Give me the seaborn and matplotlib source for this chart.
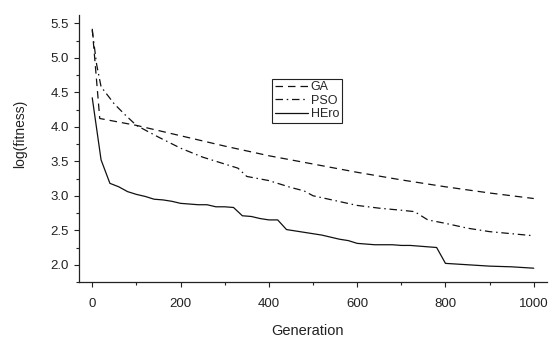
import matplotlib
matplotlib.use("Agg")
import matplotlib.pyplot as plt
import seaborn as sns
import pandas as pd
from matplotlib.ticker import MultipleLocator

sns.set_style("ticks")
plt.rcParams['font.family'] = ['Liberation Sans', 'DejaVu Sans']

# ---- data ----
ga_x = [0, 17, 100, 200, 300, 400, 500, 600, 700, 800, 900, 1000]
ga_y = [5.42, 4.12, 4.02, 3.87, 3.72, 3.58, 3.46, 3.34, 3.23, 3.13, 3.04, 2.96]

pso_x = [0, 10, 20, 50, 75, 100, 150, 200, 250, 300, 330, 350, 400, 450, 480,
         500, 550, 600, 650, 700, 730, 760, 800, 850, 900, 950, 1000]
pso_y = [5.40, 4.90, 4.58, 4.33, 4.17, 4.02, 3.85, 3.69, 3.56, 3.46, 3.40, 3.28,
         3.22, 3.12, 3.07, 3.00, 2.93, 2.86, 2.82, 2.79, 2.77, 2.65, 2.60, 2.53,
         2.48, 2.45, 2.42]

hero_x = [0, 20, 40, 60, 80, 100, 120, 140, 160, 180, 200, 220, 240, 260, 280,
          300, 320, 340, 360, 380, 400, 420, 440, 460, 480, 500, 520, 540, 560,
          580, 600, 620, 640, 660, 680, 700, 720, 740, 760, 780, 800, 850, 900,
          950, 1000]
hero_y = [4.42, 3.52, 3.18, 3.13, 3.06, 3.02, 2.99, 2.95, 2.94, 2.92, 2.89, 2.88,
          2.87, 2.87, 2.84, 2.84, 2.83, 2.71, 2.70, 2.67, 2.65, 2.65, 2.51, 2.49,
          2.47, 2.45, 2.43, 2.40, 2.37, 2.35, 2.31, 2.30, 2.29, 2.29, 2.29, 2.28,
          2.28, 2.27, 2.26, 2.25, 2.02, 2.00, 1.98, 1.97, 1.95]

series_names = ["GA", "PSO", "HEro"]
x_ticks = [0, 200, 400, 600, 800, 1000]
y_ticks = [2.0, 2.5, 3.0, 3.5, 4.0, 4.5, 5.0, 5.5]

fig = plt.figure(figsize=(5.51, 3.45), dpi=100)
ax = fig.add_axes([79 / 551, 1 - 282 / 345, 468 / 551, 267 / 345])

styles = [(0, (6, 4)), (0, (6, 3, 1.2, 3)), '-']
for name, xs, ys, ls in zip(series_names, [ga_x, pso_x, hero_x],
                            [ga_y, pso_y, hero_y], styles):
    df = pd.DataFrame({"Generation": xs, "fit": ys})
    sns.lineplot(data=df, x="Generation", y="fit", ax=ax, color="#111111",
                 linewidth=0.9, linestyle=ls, label=name, estimator=None,
                 sort=False)

ax.set_xlim(-30, 1030)
ax.set_ylim(1.75, 5.62)
ax.set_xticks(x_ticks)
ax.set_xticklabels([str(t) for t in x_ticks])
ax.set_yticks(y_ticks)
ax.set_yticklabels([f"{t:.1f}" for t in y_ticks])
ax.xaxis.set_minor_locator(MultipleLocator(100))
ax.yaxis.set_minor_locator(MultipleLocator(0.25))
ax.tick_params(which="major", direction="out", length=3.5, width=0.8,
               labelsize=9.5, colors="#222222")
ax.tick_params(axis="x", which="major", pad=8)
ax.tick_params(axis="y", which="major", pad=4)
ax.tick_params(which="minor", direction="out", length=2, width=0.8,
               colors="#222222")
for s in ["top", "right"]:
    ax.spines[s].set_visible(False)
for s in ["left", "bottom"]:
    ax.spines[s].set_linewidth(0.9)
    ax.spines[s].set_color("#222222")

ax.set_xlabel("Generation", fontsize=10.5, color="#222222")
ax.set_ylabel("log(fitness)", fontsize=10, color="#222222")
ax.xaxis.set_label_coords((307 - 79) / 468, (282 - 324) / 267)
ax.yaxis.set_label_coords((27 - 79) / 468, (282 - 134) / 267)

leg = ax.legend(loc="upper left", bbox_to_anchor=((272 - 79) / 468, (282 - 79) / 267),
                borderaxespad=0, fontsize=9, frameon=True, fancybox=False,
                edgecolor="#222222", framealpha=1, handlelength=2.7,
                handletextpad=0.2, labelspacing=0.1, borderpad=0.2)
leg.get_frame().set_linewidth(0.8)

fig.savefig("out.png", dpi=100)
